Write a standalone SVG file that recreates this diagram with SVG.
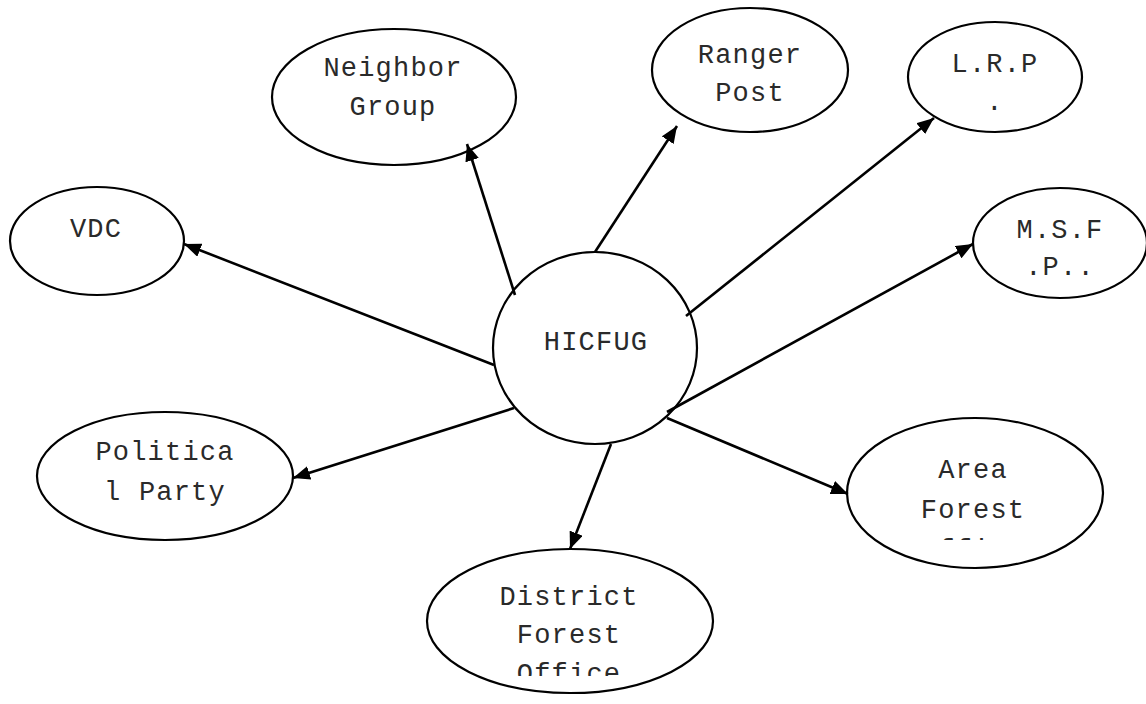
<svg xmlns="http://www.w3.org/2000/svg" width="1146" height="704" viewBox="0 0 1146 704">
<style>
.n{fill:#fff;stroke:#000;stroke-width:2.2}
.t{font-family:"Liberation Mono","Courier New",monospace;font-size:27px;letter-spacing:1.2px;fill:#2a2a2a;text-anchor:middle}
.c{stroke:#000;stroke-width:2.6;fill:none;marker-end:url(#ah)}
</style>
<defs>
<marker id="ah" markerUnits="userSpaceOnUse" markerWidth="18" markerHeight="14" refX="17" refY="7" orient="auto">
<path d="M0,0 L17,7 L0,14 z" fill="#000"/>
</marker>
<clipPath id="clipArea"><rect x="840" y="400" width="280" height="140"/></clipPath>
<clipPath id="clipDist"><rect x="420" y="540" width="300" height="136"/></clipPath>
</defs>
<rect width="1146" height="704" fill="#fff"/>
<g id="node-neighbor"><ellipse class="n" cx="394" cy="97" rx="122" ry="68"/><text class="t" x="393" y="76">Neighbor</text><text class="t" x="393" y="115">Group</text></g>
<g id="node-ranger"><ellipse class="n" cx="750" cy="70" rx="98" ry="62"/><text class="t" x="750" y="63">Ranger</text><text class="t" x="750" y="101">Post</text></g>
<g id="node-lrp"><ellipse class="n" cx="995" cy="77" rx="87" ry="55"/><text class="t" x="995" y="72">L.R.P</text><text class="t" x="995" y="110">.</text></g>
<g id="node-msfp"><ellipse class="n" cx="1060" cy="243" rx="87" ry="55"/><text class="t" x="1060" y="238">M.S.F</text><text class="t" x="1060" y="275">.P..</text></g>
<g id="node-vdc"><ellipse class="n" cx="97" cy="241" rx="87" ry="54"/><text class="t" x="96" y="237">VDC</text></g>
<g id="node-hicfug"><ellipse class="n" cx="595" cy="348" rx="102" ry="96"/><text class="t" x="596" y="350">HICFUG</text></g>
<g id="node-political"><ellipse class="n" cx="165" cy="476" rx="128" ry="64"/><text class="t" x="165" y="460">Politica</text><text class="t" x="165" y="500">l Party</text></g>
<g id="node-area"><ellipse class="n" cx="975" cy="493" rx="128" ry="75"/><g clip-path="url(#clipArea)"><text class="t" x="973" y="478">Area</text><text class="t" x="973" y="518">Forest</text><text class="t" x="973" y="558">Office</text></g></g>
<g id="node-district"><ellipse class="n" cx="570" cy="621" rx="143" ry="72"/><g clip-path="url(#clipDist)"><text class="t" x="569" y="605">District</text><text class="t" x="569" y="643">Forest</text><text class="t" x="569" y="682">Office</text></g></g>
<g id="connectors">
<line class="c" x1="515" y1="295" x2="467" y2="144"/>
<line class="c" x1="595" y1="252" x2="677" y2="126"/>
<line class="c" x1="686" y1="316" x2="934" y2="118"/>
<line class="c" x1="667" y1="412" x2="973" y2="244"/>
<line class="c" x1="494" y1="365" x2="184" y2="244"/>
<line class="c" x1="514" y1="408" x2="293" y2="478"/>
<line class="c" x1="611" y1="444" x2="570" y2="549"/>
<line class="c" x1="667" y1="418" x2="848" y2="494"/>
</g>
</svg>
